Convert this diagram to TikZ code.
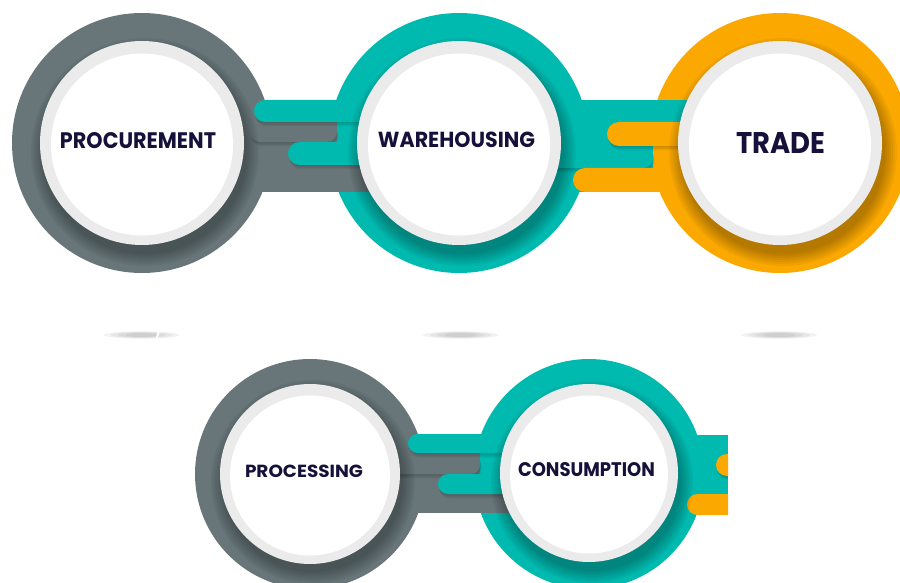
\documentclass[tikz,border=0pt]{standalone}
\usepackage{fontspec}
\usepackage{graphicx}
\newfontfamily\lbl{Poppins}
\definecolor{ringgrey}{HTML}{687679}
\definecolor{ringteal}{HTML}{00BAB0}
\definecolor{ringorange}{HTML}{FBA900}
\definecolor{rimgrey}{HTML}{EBEBEB}
\definecolor{ink}{HTML}{16113A}
\newcommand\fittext[3]{\resizebox{#1pt}{#2pt}{\lbl\bfseries #3}}
% bar with soft drop shadow: colour, x1, y1, x2, y2, corner radius
\newcommand\shbar[6]{%
  \foreach \k in {1,2,3}{\fill[black,opacity=0.06,rounded corners=#6pt] (#2+0.5*\k,#3+1.5*\k) rectangle (#4+0.5*\k,#5+1.5*\k);}
  \fill[#1,rounded corners=#6pt] (#2,#3) rectangle (#4,#5);}
\newcommand\plainbar[6]{\fill[#1,rounded corners=#6pt] (#2,#3) rectangle (#4,#5);}
% shadow of the light disk on its ring: cx, cy, R outer, r light, dx, dy
\newcommand\diskshadow[6]{%
  \begin{scope}
    \clip (#1,#2) circle[radius=#3pt];
    \foreach \k in {0,...,6}{\fill[black,opacity=0.045] (#1+#5,#2+#6) circle[radius={#4pt+\k*2pt}];}
  \end{scope}}
\newcommand\groundshadow[2]{%
  \foreach \a/\b in {38pt/3.6pt,31pt/3.1pt,24pt/2.6pt,16pt/2.1pt}{\fill[black,opacity=0.05] (#1,#2) ellipse[x radius=\a, y radius=\b];}}
\begin{document}
\begin{tikzpicture}[x=1pt,y=-1pt,lbl/.style={inner sep=0pt,text=ink}]
\useasboundingbox (0,0) rectangle (900,583);
\clip (0,0) rectangle (900,583);

% ---------- ring discs ----------
\fill[ringgrey]   (142,143) circle[radius=130pt];
\fill[ringteal]   (459,143) circle[radius=130pt];
\fill[ringorange] (780,143) circle[radius=130pt];
\fill[ringgrey]   (310,474) circle[radius=115pt];
\fill[ringteal]   (589,474) circle[radius=115pt];

% ---------- top connector: grey -> teal ----------
\fill[ringgrey] (142,102) rectangle (369,192);
\fill[ringteal] (337,104) rectangle (420,163);
\shbar{ringgrey}{250}{122}{337}{142}{10}
\shbar{ringteal}{254}{100}{470}{122}{11}
\shbar{ringteal}{288}{142}{470}{165}{11.5}

% ---------- top connector: teal -> orange ----------
\fill[ringteal] (459,100) rectangle (687,192);
\fill[ringorange] (653,124) rectangle (720,190);
\shbar{ringteal}{540}{146}{653}{168}{10}
\shbar{ringorange}{607}{122}{720}{146}{12}
\plainbar{ringorange}{573}{168}{720}{192}{12}

% ---------- bottom connector: grey -> teal ----------
\fill[ringgrey] (310,436) rectangle (509,513);
\fill[ringteal] (480,436) rectangle (540,492);
\shbar{ringgrey}{380}{453}{480}{474}{9}
\shbar{ringteal}{408}{434}{560}{453}{9.5}
\shbar{ringteal}{438}{474}{560}{494}{10}

% ---------- bottom connector: teal -> (cut) ----------
\begin{scope}
  \clip (0,0) rectangle (728,583);
  \fill[ringteal] (589,435) rectangle (728,515);
  \shbar{ringorange}{716}{454}{760}{476}{11}
  \plainbar{ringorange}{687}{494}{760}{515}{10.5}
\end{scope}

% ---------- shadows of the light disks ----------
\diskshadow{142}{143}{130}{102}{3}{9}
\diskshadow{459}{143}{130}{102}{3}{9}
\diskshadow{780}{143}{130}{102}{3}{9}
\diskshadow{310}{474}{115}{90}{3}{8}
\diskshadow{589}{474}{115}{89}{3}{8}

% ---------- light disks and white faces ----------
\fill[rimgrey] (142,143) circle[radius=102pt];
\fill[white]   (142,144.5) circle[radius=91pt];
\fill[rimgrey] (459,143) circle[radius=102pt];
\fill[white]   (459,144.5) circle[radius=91pt];
\fill[rimgrey] (780,143) circle[radius=102pt];
\fill[white]   (780,144.5) circle[radius=91pt];
\fill[rimgrey] (310,474) circle[radius=90pt];
\fill[white]   (310,475.5) circle[radius=80pt];
\fill[rimgrey] (589,473) circle[radius=89pt];
\fill[white]   (589,474.5) circle[radius=79pt];

% ---------- ground shadows ----------
\groundshadow{141.5}{335}
\fill[white] (155.5,339) -- (157.5,339) -- (160,331) -- (158,331) -- cycle;
\groundshadow{460.5}{335}
\groundshadow{779}{335}

% ---------- labels ----------
\node[lbl] (tproc)    at (138,141)   {\fittext{156}{16}{PROCUREMENT}};
\node[lbl] (twh)      at (456.5,140) {\fittext{157}{15.5}{WAREHOUSING}};
\node[lbl] (ttrade)   at (780.5,142.5) {\fittext{89}{21}{TRADE}};
\node[lbl] (tprocess) at (304,471)   {\fittext{118}{12.5}{PROCESSING}};
\node[lbl] (tcons)    at (586.5,470) {\fittext{137}{14}{CONSUMPTION}};
\end{tikzpicture}
\end{document}
